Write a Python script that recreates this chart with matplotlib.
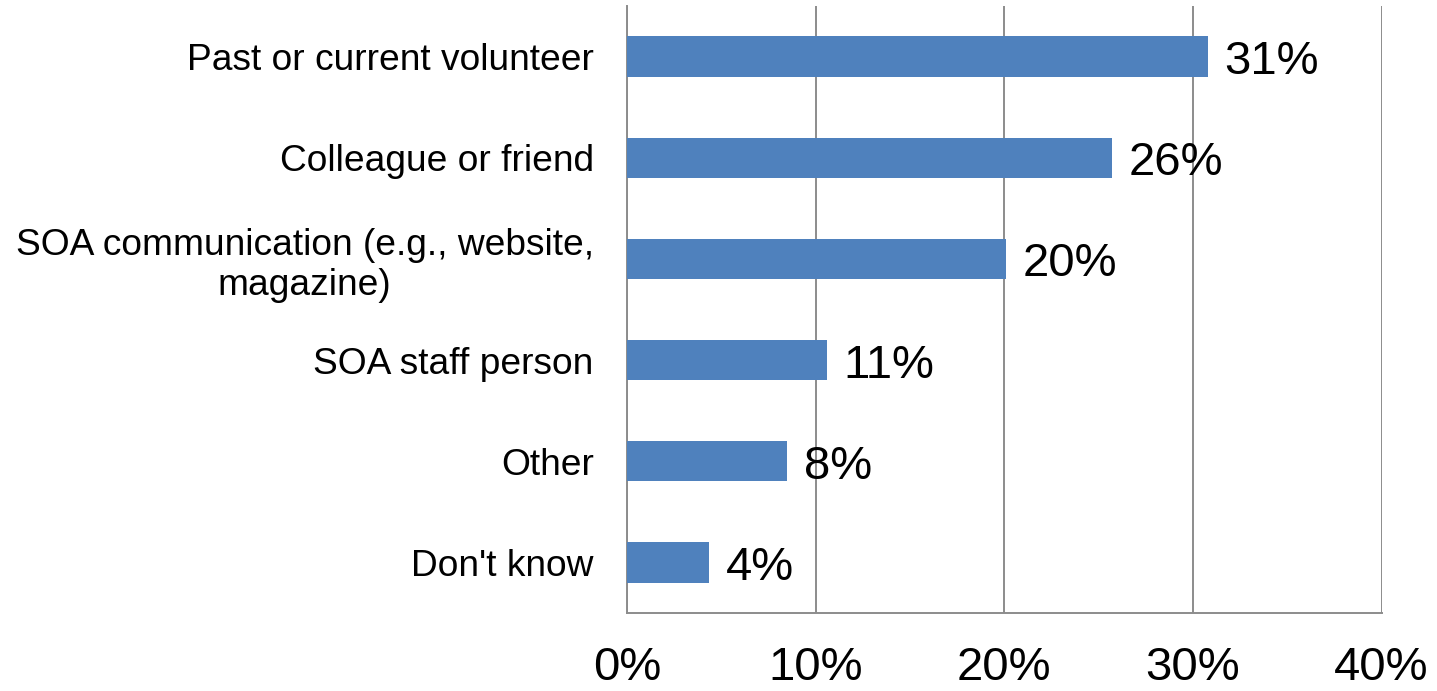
import matplotlib.pyplot as plt

plt.rcParams['font.family'] = ['Liberation Sans', 'DejaVu Sans']

# Survey responses (share of respondents)
categories = [
    "Past or current volunteer",
    "Colleague or friend",
    "SOA communication (e.g., website,\nmagazine)",
    "SOA staff person",
    "Other",
    "Don't know",
]
shares = [30.8, 25.7, 20.1, 10.6, 8.5, 4.35]
x_ticks = [0, 10, 20, 30, 40]

fig = plt.figure(figsize=(14.37, 6.91), dpi=100)
ax = fig.add_axes([0.4363, 0.1129, 0.5251, 0.8784])

pos = list(range(len(categories)))[::-1]
ax.barh(pos, shares, height=0.4, color="#4F81BD", zorder=3)

for p, s in zip(pos, shares):
    ax.annotate(f"{s:.0f}%", (s, p), xytext=(12, -4), textcoords="offset points",
                va="center", ha="left", fontsize=34, color="black", zorder=4)

ax.set_xlim(0, 40)
ax.set_ylim(-0.5, len(categories) - 0.5)
ax.set_xticks(x_ticks)
ax.set_xticklabels([f"{t}%" for t in x_ticks], fontsize=34)
ax.set_yticks(pos)
ax.set_yticklabels(categories, fontsize=26.7, multialignment="center")
ax.tick_params(axis="x", length=0, pad=24)
ax.tick_params(axis="y", length=0, pad=24)

ax.grid(axis="x", color="#8C8C8C", linewidth=1.4, zorder=0)
for side in ["top", "right"]:
    ax.spines[side].set_visible(False)
for side in ["left", "bottom"]:
    ax.spines[side].set_color("#8C8C8C")
    ax.spines[side].set_linewidth(1.4)

fig.savefig("out.png", dpi=100)
